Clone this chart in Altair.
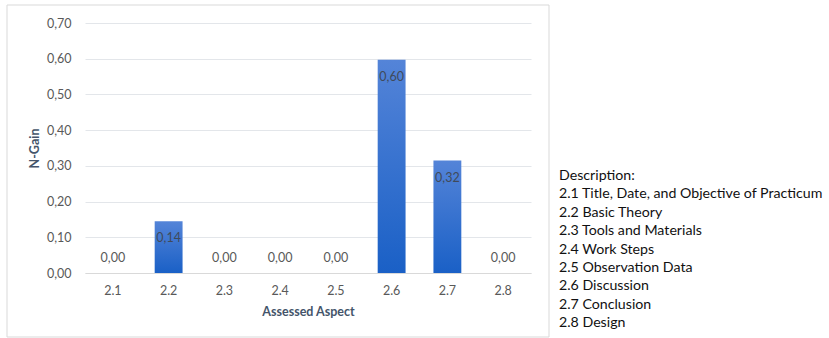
import altair as alt
import pandas as pd

aspects = ["2.1", "2.2", "2.3", "2.4", "2.5", "2.6", "2.7", "2.8"]
ngain = [0.00, 0.145, 0.00, 0.00, 0.00, 0.597, 0.315, 0.00]
labels = ["0,00", "0,14", "0,00", "0,00", "0,00", "0,60", "0,32", "0,00"]
y_ticks = [0.0, 0.1, 0.2, 0.3, 0.4, 0.5, 0.6, 0.7]
description = [
    "Description:",
    "2.1 Title, Date, and Objective of Practicum",
    "2.2 Basic Theory",
    "2.3 Tools and Materials",
    "2.4 Work Steps",
    "2.5 Observation Data",
    "2.6 Discussion",
    "2.7 Conclusion",
    "2.8 Design",
]

df = pd.DataFrame({"aspect": aspects, "ngain": ngain, "label": labels})

FONT = "Lato"
x_enc = alt.X(
    "aspect:N",
    sort=aspects,
    scale=alt.Scale(paddingInner=0.5, paddingOuter=0.25),
    axis=alt.Axis(
        title="Assessed Aspect",
        labelAngle=0,
        labelFont=FONT,
        labelFontSize=12.5,
        labelColor="#595959",
        labelPadding=11,
        titleFont=FONT,
        titleFontSize=12.5,
        titleFontWeight="bold",
        titleColor="#44546a",
        titlePadding=9,
        domain=True,
        domainColor="#d9d9d9",
        ticks=False,
        grid=False,
    ),
)
y_enc = alt.Y(
    "ngain:Q",
    scale=alt.Scale(domain=[0, 0.7], nice=False, zero=True),
    axis=alt.Axis(
        title="N-Gain",
        values=y_ticks,
        labelOverlap=False,
        labelExpr="replace(format(datum.value, '.2f'), '.', ',')",
        labelFont=FONT,
        labelFontSize=12.5,
        labelColor="#595959",
        labelPadding=14,
        titleFont=FONT,
        titleFontSize=12.5,
        titleFontWeight="bold",
        titleColor="#44546a",
        titlePadding=5,
        domain=False,
        ticks=False,
        grid=True,
        gridColor="#e3e6ea",
        gridWidth=1,
    ),
)

base = alt.Chart(df)

bars = base.mark_bar(
    color=alt.Gradient(
        gradient="linear",
        stops=[
            alt.GradientStop(color="#5484d8", offset=0),
            alt.GradientStop(color="#1a60c6", offset=1),
        ],
        x1=0, x2=0, y1=0, y2=1,
    ),
).encode(x=x_enc, y=y_enc)

lbl_in = base.transform_filter("datum.ngain > 0").mark_text(
    font=FONT, fontSize=12.5, color="#404a5a", baseline="middle", dy=17
).encode(x=x_enc, y=y_enc, text="label:N")

lbl_zero = base.transform_filter("datum.ngain <= 0").mark_text(
    font=FONT, fontSize=12.5, color="#595959", baseline="middle", dy=-15
).encode(x=x_enc, y=y_enc, text="label:N")

desc = alt.Chart(pd.DataFrame({"k": [0]})).mark_text(
    font=FONT, fontSize=14.2, color="#111111", align="left", baseline="alphabetic",
    lineHeight=18.4,
).encode(x=alt.value(474), y=alt.value(157), text=alt.value(description))

frame = alt.Chart(pd.DataFrame({"k": [0]})).mark_rect(
    fill=None, stroke="#d9d9d9", strokeWidth=1
).encode(x=alt.value(-78), x2=alt.value(464), y=alt.value(-18), y2=alt.value(314))

chart = alt.layer(bars, lbl_in, lbl_zero, frame, desc).properties(
    width=446,
    height=250,
    autosize=alt.AutoSizeParams(type="none"),
    padding={"left": 85, "top": 23, "right": 298, "bottom": 65},
    background="white",
).configure_view(stroke=None)

chart.save("out.html", embed_options={"renderer": "svg", "actions": False})
